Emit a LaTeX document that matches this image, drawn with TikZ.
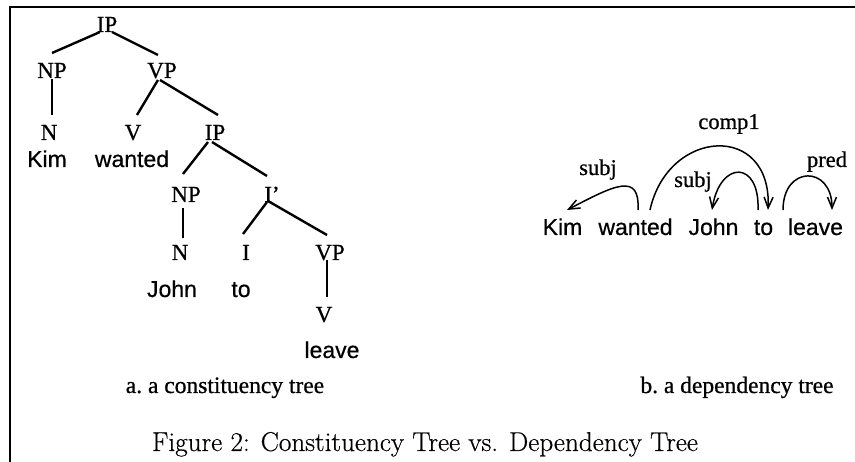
\documentclass[tikz,border=0pt]{standalone}
\usepackage{fontspec}
\newfontfamily\tms[FakeBold=0.7]{Liberation Serif}
\newfontfamily\hlv[FakeBold=0.6]{Liberation Sans}
\newfontfamily\lmr[FakeBold=0.5]{Latin Modern Roman}
\usetikzlibrary{arrows.meta}
\tikzset{
  cat/.style={inner sep=0pt, anchor=base, font=\tms\fontsize{23}{27}\selectfont},
  word/.style={inner sep=0pt, anchor=base, font=\hlv\fontsize{23}{27}\selectfont},
  rel/.style={inner sep=0pt, anchor=base, font=\tms\fontsize{22.5}{27}\selectfont},
  sub/.style={inner sep=0pt, anchor=base, font=\tms\fontsize{23.5}{27}\selectfont\frenchspacing},
  figcap/.style={inner sep=0pt, anchor=base, font=\lmr\fontsize{27.2}{32}\selectfont},
  branch/.style={line width=2.4pt},
  arc/.style={line width=1.5pt, -{Straight Barb[length=11pt,width=9pt,line width=1.5pt]}},
  frame/.style={line width=1.8pt}
}
\begin{document}
\begin{tikzpicture}[x=1pt,y=-1pt]
\useasboundingbox (0,0) rectangle (855,462);
% frame (top and left only)
\coordinate (fbl) at (10,462);
\coordinate (ftl) at (10,7);
\coordinate (ftr) at (855,7);
\draw[frame] (fbl) -- (ftl) -- (ftr);

% constituency tree
\node[cat] (IP) at (107,32) {IP};
\node[cat] (NP) at (52,78) {NP};
\node[cat] (VP) at (162,78) {VP};
\node[cat] (N) at (49,140) {N};
\node[cat] (V) at (133,140) {V};
\node[cat] (IPb) at (215,140) {IP};
\node[word] (kim) at (47,167) {Kim};
\node[word] (wantedA) at (132,167) {wanted};
\node[cat] (NPb) at (186,202) {NP};
\node[cat] (Ip) at (272,202) {I’};
\node[cat] (Nb) at (180,260) {N};
\node[cat] (I) at (246,260) {I};
\node[cat] (VPb) at (330,260) {VP};
\node[word] (johnA) at (172,297) {John};
\node[word] (toA) at (241,297) {to};
\node[cat] (Vb) at (324,322) {V};
\node[word] (leaveA) at (332,358) {leave};

\draw[branch] ([shift={(-7,0)}]IP.base) -- ([shift={(0,-25)}]NP.base);
\draw[branch] ([shift={(5,0)}]IP.base) -- ([shift={(-4,-23)}]VP.base);
\draw[branch] ([shift={(0,1)}]NP.base) -- ([shift={(3,-25)}]N.base);
\draw[branch] ([shift={(-4,2)}]VP.base) -- ([shift={(4,-25)}]V.base);
\draw[branch] ([shift={(-2,2)}]VP.base) -- ([shift={(3,-25)}]IPb.base);
\draw[branch] ([shift={(-7,2)}]IPb.base) -- ([shift={(-3,-28)}]NPb.base);
\draw[branch] ([shift={(-3,2)}]IPb.base) -- ([shift={(-5,-26)}]Ip.base);
\draw[branch] ([shift={(-3,6)}]NPb.base) -- ([shift={(3,-22)}]Nb.base);
\draw[branch] ([shift={(-5,0)}]Ip.base) -- ([shift={(-3,-26)}]I.base);
\draw[branch] ([shift={(-4,-1)}]Ip.base) -- ([shift={(-3,-25)}]VPb.base);
\draw[branch] ([shift={(-3,0)}]VPb.base) -- ([shift={(3,-25)}]Vb.base);

\node[sub] (capa) at (225,393) {a. a constituency tree};

% dependency tree
\node[word] (kimB) at (562.5,235) {Kim};
\node[word] (wantedB) at (635.5,235) {wanted};
\node[word] (johnB) at (713.5,235) {John};
\node[word] (toB) at (763.5,235) {to};
\node[word] (leaveB) at (815.5,235) {leave};

\draw[arc] ([shift={(2.5,-25)}]wantedB.base) .. controls +(2,-38) and +(48,-25) .. ([shift={(4.5,-25)}]kimB.base);
\draw[arc] ([shift={(14.5,-25)}]wantedB.base) .. controls +(18,-82) and +(4,-88) .. ([shift={(4.5,-25)}]toB.base);
\draw[arc] ([shift={(-5.5,-25)}]toB.base) .. controls +(2,-50) and +(8,-50) .. ([shift={(-1.5,-25)}]johnB.base);
\draw[arc] ([shift={(-32.5,-25)}]leaveB.base) .. controls +(0,-45) and +(0,-45) .. ([shift={(16.5,-25)}]leaveB.base);

\node[rel] (lcomp) at (729,129) {comp1};
\node[rel] (lsubja) at (598,175) {subj};
\node[rel] (lsubjb) at (693,187) {subj};
\node[rel] (lpred) at (827,167) {pred};

\node[sub] (capb) at (737,393) {b. a dependency tree};

\node[figcap] (fig) at (425,451) {Figure 2: Constituency Tree vs. Dependency Tree};
\end{tikzpicture}
\end{document}
